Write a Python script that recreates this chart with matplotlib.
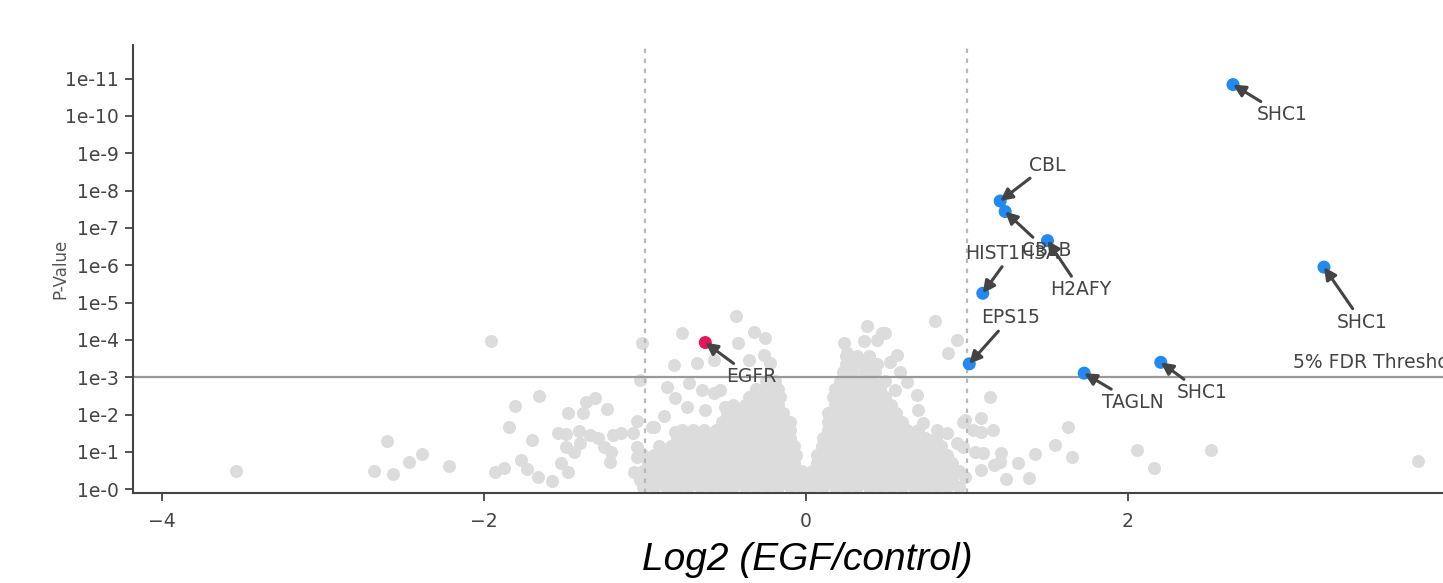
# Volcano plot : Log2 (EGF/control) vs P-Value (axe en -log10)
import matplotlib
matplotlib.use("Agg")
import matplotlib.pyplot as plt

# --- donnees (x = log2 ratio, y = -log10 p) ---

# nuage dense autour de 0, par rangees
cloud_rows_y = [0.05, 0.27, 0.49, 0.71, 0.93, 1.15, 1.37, 1.59, 1.81,
                2.03, 2.25, 2.47, 2.69, 2.91, 3.13, 3.35, 3.57]
cloud_rows_x = [
    [-1.01, -0.94, -0.87, -0.80, -0.73, -0.66, -0.59, -0.52, -0.45, -0.38, -0.31, -0.24, -0.17, -0.10, -0.03,
     0.04, 0.11, 0.18, 0.25, 0.32, 0.39, 0.46, 0.53, 0.60, 0.67, 0.74, 0.81, 0.88, 0.95],
    [-0.98, -0.91, -0.84, -0.77, -0.70, -0.63, -0.56, -0.49, -0.42, -0.35, -0.28, -0.21, -0.14, -0.07, 0.00,
     0.07, 0.14, 0.21, 0.28, 0.35, 0.42, 0.49, 0.56, 0.63, 0.70, 0.77, 0.84, 0.91],
    [-1.01, -0.94, -0.87, -0.80, -0.73, -0.66, -0.59, -0.52, -0.45, -0.38, -0.31, -0.24, -0.17, -0.10, -0.03,
     0.04, 0.11, 0.18, 0.25, 0.32, 0.39, 0.46, 0.53, 0.60, 0.67, 0.74, 0.81, 0.88, 0.95],
    [-0.98, -0.91, -0.84, -0.77, -0.70, -0.63, -0.56, -0.49, -0.42, -0.35, -0.28, -0.21, -0.14, -0.07,
     0.07, 0.14, 0.21, 0.28, 0.35, 0.42, 0.49, 0.56, 0.63, 0.70, 0.77, 0.84, 0.91],
    [-1.01, -0.94, -0.87, -0.80, -0.73, -0.66, -0.59, -0.52, -0.45, -0.38, -0.31, -0.24, -0.17, -0.10, -0.06,
     0.07, 0.11, 0.18, 0.25, 0.32, 0.39, 0.46, 0.53, 0.60, 0.67, 0.74, 0.81, 0.88],
    [-0.91, -0.84, -0.77, -0.70, -0.63, -0.56, -0.49, -0.42, -0.35, -0.28, -0.21, -0.14, -0.07,
     0.10, 0.14, 0.21, 0.28, 0.35, 0.42, 0.49, 0.56, 0.63, 0.70, 0.77, 0.84],
    [-0.80, -0.73, -0.66, -0.59, -0.52, -0.45, -0.38, -0.31, -0.24, -0.17, -0.10,
     0.11, 0.18, 0.25, 0.32, 0.39, 0.46, 0.53, 0.60, 0.67, 0.74, 0.81],
    [-0.77, -0.70, -0.63, -0.56, -0.49, -0.42, -0.35, -0.28, -0.21, -0.14, -0.10,
     0.14, 0.21, 0.28, 0.35, 0.42, 0.49, 0.56, 0.63, 0.70],
    [-0.52, -0.45, -0.38, -0.31, -0.24, -0.17, -0.10, 0.14, 0.18, 0.25, 0.32, 0.39, 0.46, 0.53, 0.60],
    [-0.49, -0.42, -0.35, -0.28, -0.21, -0.14, 0.14, 0.21, 0.28, 0.35, 0.42, 0.49, 0.56],
    [-0.45, -0.38, -0.31, -0.24, -0.17, 0.18, 0.25, 0.32, 0.39, 0.46, 0.53],
    [-0.35, -0.28, -0.21, -0.16, 0.17, 0.21, 0.28, 0.35, 0.42, 0.49],
    [-0.31, -0.24, -0.17, 0.18, 0.25, 0.32, 0.39, 0.46],
    [-0.25, -0.19, 0.21, 0.28, 0.35, 0.42, 0.49],
    [0.23, 0.29, 0.36, 0.43],
    [0.25, 0.30, 0.37, 0.44],
    [0.25, 0.32, 0.39],
]

# points isoles (non significatifs)
sparse_x = [-3.537, -2.601, -2.680, -2.562, -2.467, -2.384, -2.216, -1.955,
            -1.804, -1.660, -1.842, -1.701, -1.929, -1.873, -1.769, -1.732, -1.666, -1.576,
            -1.521, -1.477, -1.480, -1.384, -1.363, -1.312, -1.235, -1.539, -1.488, -1.407,
            -1.488, -1.442, -1.401, -1.343, -1.293, -1.256, -1.210, -1.214, -1.198, -1.148,
            -1.076, -1.049, -1.049, -1.049, -1.065, -1.028, -0.955, -1.017, -1.028,
            -0.432, -0.769, -0.324, -0.252, -0.424, -0.676, -0.821, -0.573, -0.355, -0.262,
            -0.220, -0.862, -0.728, -0.811, -0.645, -0.738, -0.624, -0.500, -0.531, -0.573,
            -0.883, -0.811, -0.945,
            0.380, 0.473, 0.359, 0.442, 0.566, 0.525, 0.587, 0.629, 0.556, 0.690, 0.700,
            0.730, 0.815, 0.877, 0.939, 0.980, 0.804, 0.939, 0.887, 0.235, 0.256, 0.490,
            0.991, 1.042, 1.088, 1.163, 1.088, 1.146, 1.053, 1.104, 1.212, 1.208, 1.167,
            1.316, 1.088, 1.245, 1.386, 1.629, 1.546, 1.427, 1.653, 2.059, 2.517, 2.163,
            3.803, 0.991, 0.980]
sparse_y = [0.49, 1.30, 0.50, 0.42, 0.74, 0.95, 0.63, 3.98,
            2.23, 2.50, 1.67, 1.31, 0.46, 0.58, 0.79, 0.54, 0.34, 0.21,
            0.71, 0.46, 2.05, 2.05, 2.33, 2.45, 2.14, 1.50, 1.49, 1.56,
            1.14, 1.01, 1.23, 1.46, 1.37, 1.14, 1.01, 0.74, 1.46, 1.50,
            1.50, 1.84, 1.14, 0.87, 0.47, 0.25, 1.68, 3.91, 2.93,
            4.63, 4.18, 4.21, 4.05, 3.91, 3.38, 3.33, 3.47, 3.47, 3.60,
            3.38, 2.75, 2.84, 2.44, 2.66, 2.21, 2.13, 2.21, 2.66, 2.57,
            1.95, 1.54, 1.68,
            4.38, 4.18, 3.96, 4.00, 3.60, 3.42, 3.15, 2.88, 2.66, 2.53, 2.13,
            1.77, 1.59, 1.50, 1.23, 1.81, 4.52, 4.00, 3.65, 3.91, 3.65, 4.19,
            1.86, 1.59, 1.54, 1.59, 1.92, 2.48, 1.01, 0.97, 0.97, 0.74, 0.65,
            0.70, 0.52, 0.27, 0.30, 1.68, 1.19, 0.95, 0.87, 1.05, 1.05, 0.56,
            0.75, 0.34, 1.14]

# genes annotes
hit_genes = ["SHC1", "CBL", "CBLB", "H2AFY", "HIST1H3A", "EPS15", "TAGLN", "SHC1", "SHC1", "EGFR"]
hit_x = [2.655, 1.208, 1.239, 1.502, 1.100, 1.016, 1.730, 2.206, 3.220, -0.624]
hit_y = [10.84, 7.72, 7.44, 6.66, 5.25, 3.36, 3.11, 3.40, 5.95, 3.93]
hit_up = [True, True, True, True, True, True, True, True, True, False]

fdr_threshold = 3.0
fold_lines = [-1.0, 1.0]
ytick_values = [0, 1, 2, 3, 4, 5, 6, 7, 8, 9, 10, 11]
ytick_labels = ["1e-0", "1e-1", "1e-2", "1e-3", "1e-4", "1e-5", "1e-6",
                "1e-7", "1e-8", "1e-9", "1e-10", "1e-11"]
xtick_values = [-4, -2, 0, 2]

# decalage du texte des annotations (pixels, par rapport au point)
label_offsets = [(49, -30), (47, 36), (42, -39), (33, -49), (29, 40),
                 (41, 46), (49, -29), (41, -30), (38, -55), (46, -34)]

grey = "#dcdcdc"
blue = "#2389f2"
red = "#e3175a"
dark = "#444444"

fig = plt.figure(figsize=(14.43, 5.83), dpi=100)
ax = fig.add_axes([133 / 1443, 90 / 583, (1481.7 - 133) / 1443, 448 / 583])

cx = []
cy = []
for i in range(len(cloud_rows_y)):
    for xv in cloud_rows_x[i]:
        cx.append(xv)
        cy.append(cloud_rows_y[i])
ax.scatter(cx + sparse_x, cy + sparse_y, s=88, color=grey, linewidths=0, zorder=1)

ax.axhline(fdr_threshold, color="#999999", lw=1.6, zorder=2)
for xv in fold_lines:
    ax.axvline(xv, color="#b8b8b8", lw=1.6, ls=(0, (2, 2.5)), zorder=2)

colors = [blue if u else red for u in hit_up]
ax.scatter(hit_x, hit_y, s=88, color=colors, linewidths=0, zorder=3)

for i in range(len(hit_genes)):
    dx, dy = label_offsets[i]
    ax.annotate(hit_genes[i], xy=(hit_x[i], hit_y[i]),
                xytext=(dx * 0.72, dy * 0.72), textcoords="offset points",
                ha="center", va="center", fontsize=13.5, color=dark, zorder=4,
                arrowprops=dict(arrowstyle="-|>", color=dark, lw=2.2,
                                mutation_scale=18, shrinkA=1, shrinkB=0))

ax.text(3.03, 3.39, "5% FDR Threshold", fontsize=13.5, color=dark,
        ha="left", va="center", zorder=4)

ax.set_xlim(-4.18, 4.2)
ax.set_ylim(-0.1, 11.9)
ax.set_xticks(xtick_values)
ax.set_yticks(ytick_values)
ax.set_yticklabels(ytick_labels)

for side in ["top", "right"]:
    ax.spines[side].set_visible(False)
for side in ["left", "bottom"]:
    ax.spines[side].set_color(dark)
    ax.spines[side].set_linewidth(1.5)
ax.tick_params(axis="both", colors=dark, labelsize=13.5, length=6, width=1.3)
ax.tick_params(axis="y", pad=4)
ax.tick_params(axis="x", pad=8)

ax.set_ylabel("P-Value", fontsize=12, color="#555555")
ax.yaxis.set_label_coords(-0.047, 0.5)

fig.text(807 / 1443, 1 - 560 / 583, "Log2 (EGF/control)", fontsize=28,
         fontstyle="italic", family="Liberation Sans", color="black",
         ha="center", va="center")

fig.savefig("out.png", dpi=100)
